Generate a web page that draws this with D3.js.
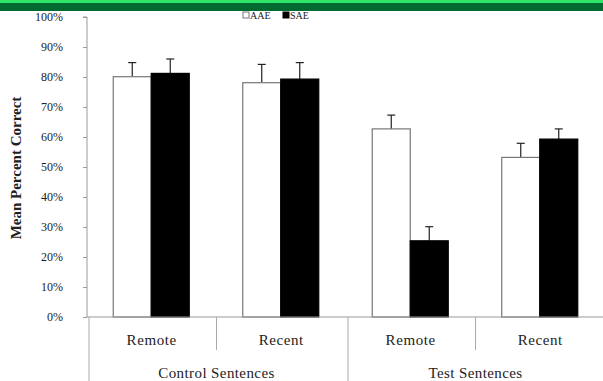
<!DOCTYPE html>
<html><head><meta charset="utf-8">
<script src="https://cdn.jsdelivr.net/npm/d3@7"></script>
<style>body{margin:0;background:#fff;}svg{display:block;}</style>
</head><body>
<script>
const categories = ["Remote","Recent","Remote","Recent"];
const groups = ["Control Sentences","Test Sentences"];
const seriesNames = ["AAE","SAE"];
const aaeValues = [80.1, 78.1, 62.7, 53.2];
const saeValues = [81.2, 79.3, 25.4, 59.3];
const aaeErrors = [4.7, 6.1, 4.6, 4.7];
const saeErrors = [4.8, 5.5, 4.7, 3.4];
const yTicks = [0,10,20,30,40,50,60,70,80,90,100];

(function(){
const W=603,H=381;
const svg=d3.select("body").append("svg").attr("width",W).attr("height",H);
const font="'Liberation Serif','Times New Roman',serif";

// top banner
svg.append("rect").attr("x",0).attr("y",0).attr("width",W).attr("height",3).attr("fill","#2fe56a");
svg.append("rect").attr("x",0).attr("y",3).attr("width",W).attr("height",8).attr("fill","#006a30");

const pLeft=87,pRight=605,pTop=17,pBottom=317;
const y=d3.scaleLinear().domain([0,100]).range([pBottom,pTop]);
const x0=d3.scaleBand().domain(d3.range(categories.length)).range([pLeft,pRight]);
const x1=d3.scaleBand().domain(seriesNames).range([0,76]);

// y axis
const yAxis=d3.axisLeft(y).tickValues(yTicks).tickFormat(d=>d+"%").tickSize(4).tickPadding(20);
const ga=svg.append("g").attr("transform",`translate(${pLeft},0)`).call(yAxis);
ga.select(".domain").attr("stroke","#999").attr("d",`M-4,${pTop}H0V${pBottom}`);
ga.selectAll(".tick line").attr("stroke","#999");
ga.selectAll(".tick text").attr("font-family",font).attr("font-size",12).attr("fill","#222");

// y axis title
svg.append("text").attr("transform","translate(21,168) rotate(-90)").attr("text-anchor","middle")
 .attr("font-family",font).attr("font-weight","bold").attr("font-size",15).attr("fill","#222")
 .text("Mean Percent Correct");

// bars
const cols={AAE:"#ffffff",SAE:"#000000"};
const strokes={AAE:"#777",SAE:"#000"};
const data=[];
categories.forEach((c,i)=>{
  data.push({i,s:"AAE",v:aaeValues[i],e:aaeErrors[i]});
  data.push({i,s:"SAE",v:saeValues[i],e:saeErrors[i]});
});
const off=(x0.bandwidth()-76)/2 - 0.5;
const g=svg.append("g");
data.forEach(d=>{
  const bx=x0(d.i)+off+x1(d.s);
  const cx=bx+x1.bandwidth()/2;
  g.append("line").attr("x1",cx).attr("x2",cx).attr("y1",y(d.v)).attr("y2",y(d.v+d.e)).attr("stroke","#222").attr("stroke-width",1.2);
  g.append("line").attr("x1",cx-4).attr("x2",cx+4).attr("y1",y(d.v+d.e)).attr("y2",y(d.v+d.e)).attr("stroke","#222").attr("stroke-width",1.2);
  g.append("rect").attr("x",bx).attr("y",y(d.v)).attr("width",x1.bandwidth()).attr("height",pBottom-y(d.v))
   .attr("fill",cols[d.s]).attr("stroke",strokes[d.s]).attr("stroke-width",1.2);
});

// x axis line
svg.append("line").attr("x1",pLeft).attr("x2",W).attr("y1",pBottom).attr("y2",pBottom).attr("stroke","#999");
// category separators
const sep=svg.append("g").attr("stroke","#aaa");
[0,2].forEach(k=>{
  const xx=x0(k);
  sep.append("line").attr("x1",xx+2).attr("x2",xx+2).attr("y1",pBottom).attr("y2",H);
});
[1,3].forEach(k=>{
  sep.append("line").attr("x1",x0(k)).attr("x2",x0(k)).attr("y1",pBottom).attr("y2",350);
});
// category labels
categories.forEach((c,i)=>{
  svg.append("text").attr("x",x0(i)+x0.bandwidth()/2).attr("y",345).attr("text-anchor","middle")
   .attr("font-family",font).attr("font-size",15).attr("letter-spacing",0.6).attr("fill","#222").text(c);
});
groups.forEach((gname,j)=>{
  svg.append("text").attr("x",x0(j*2+1)).attr("y",378).attr("text-anchor","middle")
   .attr("font-family",font).attr("font-size",15).attr("letter-spacing",0.4).attr("fill","#222").text(gname);
});

// legend
const lg=svg.append("g").attr("font-family",font).attr("font-size",10).attr("fill","#222");
seriesNames.forEach((s,i)=>{
  const lx=243+i*40;
  lg.append("rect").attr("x",lx).attr("y",12).attr("width",6).attr("height",6)
   .attr("fill",cols[s]).attr("stroke",strokes[s]).attr("stroke-width",1);
  lg.append("text").attr("x",lx+7).attr("y",19).text(s);
});
})();
</script>
</body></html>
